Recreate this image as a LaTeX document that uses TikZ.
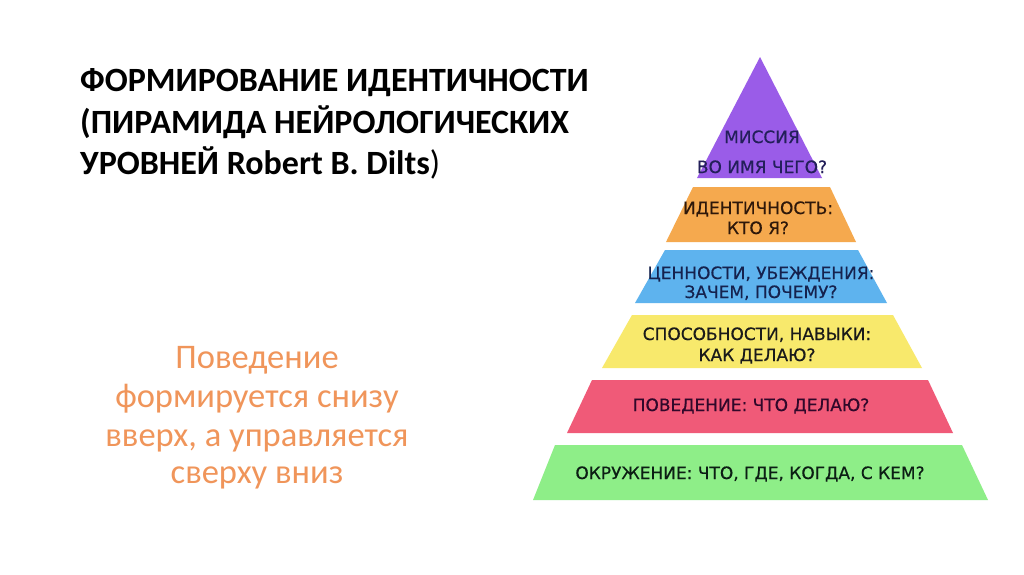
\documentclass[tikz,border=0pt]{standalone}
\usepackage{fontspec}
\setmainfont{Carlito}
\newfontface\pyrfont{DejaVu Sans}[FakeBold=0.5]
\definecolor{cpurple}{HTML}{9A5CE8}
\definecolor{corange}{HTML}{F5A94E}
\definecolor{cblue}{HTML}{5EB3EE}
\definecolor{cyellow}{HTML}{F8E96C}
\definecolor{cred}{HTML}{F05A78}
\definecolor{cgreen}{HTML}{8EEE88}
\definecolor{ctext}{HTML}{F0955A}
\definecolor{tpurple}{HTML}{231F5A}
\definecolor{torange}{HTML}{2E180A}
\definecolor{tblue}{HTML}{15224E}
\definecolor{tyellow}{HTML}{1A1A1A}
\definecolor{tred}{HTML}{30082A}
\definecolor{tgreen}{HTML}{0C1E14}
\begin{document}
\begin{tikzpicture}[x=1pt,y=-1pt,
  pyr/.style={font=\pyrfont\fontsize{17}{20}\selectfont, inner sep=0pt, anchor=base},
  ttl/.style={font=\fontsize{34}{41}\selectfont\bfseries, inner sep=0pt, anchor=base west},
  note/.style={font=\fontsize{34.5}{39}\selectfont, text=ctext, inner sep=0pt, anchor=base}
]
\useasboundingbox[fill=white] (0,0) rectangle (1024,574);
% pyramid layers
\fill[cpurple] (760,57) -- (822,178) -- (697,178) -- cycle;
\fill[corange] (693,187) -- (830,187) -- (856,242) -- (666,242) -- cycle;
\fill[cblue] (665,250) -- (858,250) -- (887,303) -- (635,303) -- cycle;
\fill[cyellow] (632,315) -- (893,315) -- (922,368) -- (602,368) -- cycle;
\fill[cred] (592,380) -- (928,380) -- (953,433) -- (567,433) -- cycle;
\fill[cgreen] (555,445) -- (962,445) -- (988,500) -- (533,500) -- cycle;
% layer texts
\node[pyr, text=tpurple] (p1) at (762,143) {МИССИЯ};
\node[pyr, text=tpurple] (p2) at (762,173) {ВО ИМЯ ЧЕГО?};
\node[pyr, text=torange] (o1) at (758,214) {ИДЕНТИЧНОСТЬ:};
\node[pyr, text=torange] (o2) at (758,234) {КТО Я?};
\node[pyr, text=tblue] (b1) at (761,279) {ЦЕННОСТИ, УБЕЖДЕНИЯ:};
\node[pyr, text=tblue] (b2) at (761,298) {ЗАЧЕМ, ПОЧЕМУ?};
\node[pyr, text=tyellow] (y1) at (757,340) {СПОСОБНОСТИ, НАВЫКИ:};
\node[pyr, text=tyellow] (y2) at (757,361) {КАК ДЕЛАЮ?};
\node[pyr, text=tred] (r1) at (751,411) {ПОВЕДЕНИЕ: ЧТО ДЕЛАЮ?};
\node[pyr, text=tgreen] (g1) at (750,479) {ОКРУЖЕНИЕ: ЧТО, ГДЕ, КОГДА, С КЕМ?};
% title
\node[ttl] (t1) at (80,91) {ФОРМИРОВАНИЕ ИДЕНТИЧНОСТИ};
\node[ttl] (t2) at (80,133) {(ПИРАМИДА НЕЙРОЛОГИЧЕСКИХ};
\node[ttl] (t3) at (80,174) {УРОВНЕЙ Robert B. Dilts\mdseries)};
% note
\node[note] (n1) at (257,368) {Поведение};
\node[note] (n2) at (257,407) {формируется снизу};
\node[note] (n3) at (257,446) {вверх, а управляется};
\node[note] (n4) at (257,483) {сверху вниз};
\end{tikzpicture}
\end{document}
